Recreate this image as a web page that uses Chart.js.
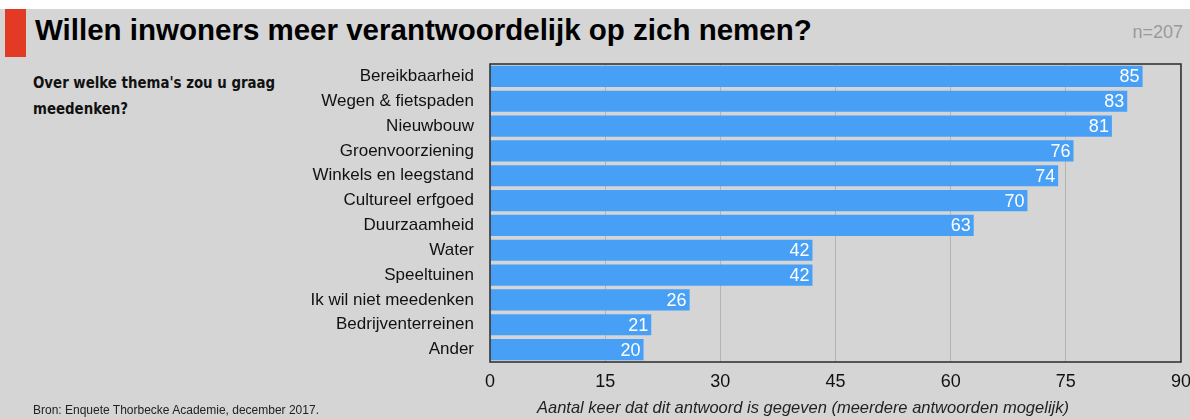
<!DOCTYPE html>
<html>
<head>
<meta charset="utf-8">
<script src="https://cdn.jsdelivr.net/npm/chart.js@4"></script>
<style>
    html, body { margin: 0; padding: 0; }
    body { width: 1190px; height: 419px; background: #fff; position: relative; overflow: hidden; font-family: "Liberation Sans", Arial, sans-serif; }
    #panel { position: absolute; left: 0; top: 9px; width: 1190px; height: 410px; background: #d5d5d5; }
    #redMark { position: absolute; left: 5px; top: 9px; width: 21px; height: 48px; background: #e23a24; }
    #title { position: absolute; left: 35px; top: 13px; font-size: 29.5px; font-weight: bold; color: #000; white-space: nowrap; }
    #count { position: absolute; right: 7px; top: 22px; font-size: 18px; color: #9a9a9a; }
    #question { position: absolute; left: 33px; top: 70px; font-family: "DejaVu Sans Condensed", "DejaVu Sans", sans-serif; font-weight: bold; font-size: 16.5px; line-height: 26px; color: #111; white-space: nowrap; transform: scaleX(0.9); transform-origin: left top; }
    #source { position: absolute; left: 33px; top: 403px; font-size: 12px; color: #222; }
    #axisTitle { position: absolute; left: 537px; top: 398px; font-size: 16.5px; font-style: italic; color: #222; white-space: nowrap; }
    #chartBox { position: absolute; left: 0; top: 0; width: 1200px; height: 419px; }
</style>
</head>
<body>
<div id="panel"></div>
<div id="redMark"></div>
<div id="title">Willen inwoners meer verantwoordelijk op zich nemen?</div>
<div id="count">n=207</div>
<div id="question">Over welke thema's zou u graag<br>meedenken?</div>
<div id="chartBox"><canvas id="themeChart"></canvas></div>
<div id="source">Bron: Enquete Thorbecke Academie, december 2017.</div>
<div id="axisTitle">Aantal keer dat dit antwoord is gegeven (meerdere antwoorden mogelijk)</div>

<script>
const themes = [
    'Bereikbaarheid',
    'Wegen & fietspaden',
    'Nieuwbouw',
    'Groenvoorziening',
    'Winkels en leegstand',
    'Cultureel erfgoed',
    'Duurzaamheid',
    'Water',
    'Speeltuinen',
    'Ik wil niet meedenken',
    'Bedrijventerreinen',
    'Ander',
];
const answerCounts = [85, 83, 81, 76, 74, 70, 63, 42, 42, 26, 21, 20];
const xTicks = [0, 15, 30, 45, 60, 75, 90];

const fontFamily = '"Liberation Sans", Arial, sans-serif';

// White numbers at the end of each bar
const barValueLabels = {
    id: 'barValueLabels',
    afterDatasetsDraw(chart) {
        const { ctx } = chart;
        const meta = chart.getDatasetMeta(0);
        ctx.save();
        ctx.fillStyle = '#ffffff';
        ctx.font = '18px ' + fontFamily;
        ctx.textAlign = 'right';
        ctx.textBaseline = 'middle';
        meta.data.forEach((bar, i) => {
            ctx.fillText(String(answerCounts[i]), bar.x - 3, bar.y + 1);
        });
        ctx.restore();
    },
};

// Dark frame around the plot area
const plotFrame = {
    id: 'plotFrame',
    afterDraw(chart) {
        const { ctx, chartArea } = chart;
        ctx.save();
        ctx.strokeStyle = '#2a2a2a';
        ctx.lineWidth = 1.5;
        ctx.strokeRect(chartArea.left, chartArea.top, chartArea.right - chartArea.left, chartArea.bottom - chartArea.top);
        ctx.restore();
    },
};

const ctx = document.getElementById('themeChart').getContext('2d');
new Chart(ctx, {
    type: 'bar',
    data: {
        labels: themes,
        datasets: [
            {
                data: answerCounts,
                backgroundColor: '#479ff6',
                borderWidth: 0,
                categoryPercentage: 0.85,
                barPercentage: 1,
            },
        ],
    },
    options: {
        indexAxis: 'y',
        responsive: true,
        maintainAspectRatio: false,
        animation: false,
        layout: {
            padding: { left: 0, top: 64, right: 0, bottom: 0 },
        },
        plugins: {
            legend: { display: false },
            tooltip: { enabled: false },
        },
        scales: {
            x: {
                min: 0,
                max: 90,
                afterBuildTicks: (scale) => {
                    scale.ticks = xTicks.map((v) => ({ value: v }));
                },
                afterFit: (scale) => {
                    scale.height = 57;
                },
                grid: {
                    color: '#b4b4b4',
                    lineWidth: 1,
                    drawTicks: false,
                },
                border: { display: false },
                ticks: {
                    color: '#111',
                    padding: 9,
                    maxRotation: 0,
                    font: { family: fontFamily, size: 18 },
                },
            },
            y: {
                afterFit: (scale) => {
                    scale.width = 490;
                },
                grid: { display: false, drawTicks: false },
                border: { display: false },
                ticks: {
                    color: '#111',
                    padding: 16,
                    autoSkip: false,
                    font: { family: fontFamily, size: 17 },
                },
            },
        },
    },
    plugins: [barValueLabels, plotFrame],
});
</script>
</body>
</html>
